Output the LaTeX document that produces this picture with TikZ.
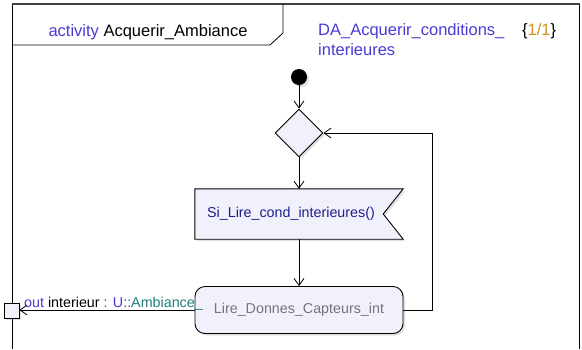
\documentclass[tikz,border=0pt]{standalone}
\usepackage{fontspec}
\setmainfont{Liberation Sans}
\usetikzlibrary{arrows.meta,shadows,shapes.geometric,calc}
\definecolor{umlfill}{RGB}{241,241,252}
\definecolor{umlblue}{RGB}{72,58,212}
\definecolor{sigblue}{RGB}{30,30,140}
\definecolor{umlteal}{RGB}{30,128,120}
\definecolor{umlorange}{RGB}{214,142,30}
\definecolor{acttext}{RGB}{115,115,125}
\begin{document}
\begin{tikzpicture}[x=1pt,y=-1pt,
  shad/.style={drop shadow={shadow xshift=2pt,shadow yshift=-2pt,opacity=0.25}},
  nodefont/.style={font=\fontsize{14.3}{17}\selectfont},
  titlefont/.style={font=\fontsize{16.5}{20}\selectfont},
  startnode/.style={circle,fill=black,minimum size=16pt,inner sep=0pt,shad},
  decision/.style={diamond,draw=black,line width=0.9pt,fill=umlfill,minimum width=48pt,minimum height=48pt,inner sep=0pt,shad},
  actionbox/.style={rectangle,rounded corners=10pt,draw=black,line width=0.9pt,fill=umlfill,minimum width=208pt,minimum height=47pt,inner sep=0pt,shad,nodefont,text=acttext},
  pinbox/.style={rectangle,draw=black,line width=0.9pt,fill=umlfill,minimum size=15pt,inner sep=0pt,shad},
  sigframe/.style={minimum width=208pt,minimum height=50pt,inner sep=0pt},
  flow/.style={draw=black,line width=0.8pt,-{Straight Barb[length=7pt,width=10pt,line width=0.8pt]}},
  frameline/.style={draw=black,line width=0.8pt}
]
\useasboundingbox (0,0) rectangle (582,349);

% frame
\draw[frameline] (12,349) -- (12,4);
\draw[frameline] (579,4) -- (579,349);
\draw[draw=black!75,line width=1.6pt] (11.5,4) -- (579.5,4);
\draw[frameline] (12,45) -- (270,45) -- (283,33) -- (283,4);

% header texts
\node[titlefont,anchor=base,inner sep=0pt] (title) at (148,36) {\textcolor{umlblue}{activity} Acquerir\_Ambiance};
\node[titlefont,anchor=base west,inner sep=0pt,text=umlblue] (da1) at (318,35) {DA\_Acquerir\_conditions\_};
\node[titlefont,anchor=base west,inner sep=0pt,text=umlblue] (da2) at (318,55) {interieures};
\node[titlefont,anchor=base west,inner sep=0pt] (page) at (522,35) {\{\textcolor{umlorange}{1/1}\}};

% nodes
\node[startnode] (start) at (299,77) {};
\node[decision] (dia) at (299,133) {};
\node[sigframe] (sig) at (299,214) {};
\path[draw=black,line width=0.9pt,fill=umlfill,shad]
  (sig.north west) -- (sig.north east) -- ($(sig.east)+(-20,0)$) -- (sig.south east) -- (sig.south west) -- cycle;
\node[nodefont,text=sigblue,inner sep=0pt] (sigtext) at (291,214) {Si\_Lire\_cond\_interieures()};
\node[actionbox] (act) at (299,310) {Lire\_Donnes\_Capteurs\_int};
\node[pinbox] (pin) at (11.5,310.5) {};

% connectors
\draw[flow] (start) -- (dia.north);
\draw[flow] (dia.south) -- (sig.north);
\draw[flow] (sig.south) -- (act.north);
\draw[flow] (act.east) -- ++(29,0) |- (dia.east);
\draw[flow] (act.west) -- (pin.east |- act.west);
\node[nodefont,anchor=base west,inner sep=0pt] (lbl) at (24,307)
  {\textcolor{umlblue}{out} interieur \textcolor{umlblue}{: U::}\textcolor{umlteal}{Ambiance\_}};
\end{tikzpicture}
\end{document}
